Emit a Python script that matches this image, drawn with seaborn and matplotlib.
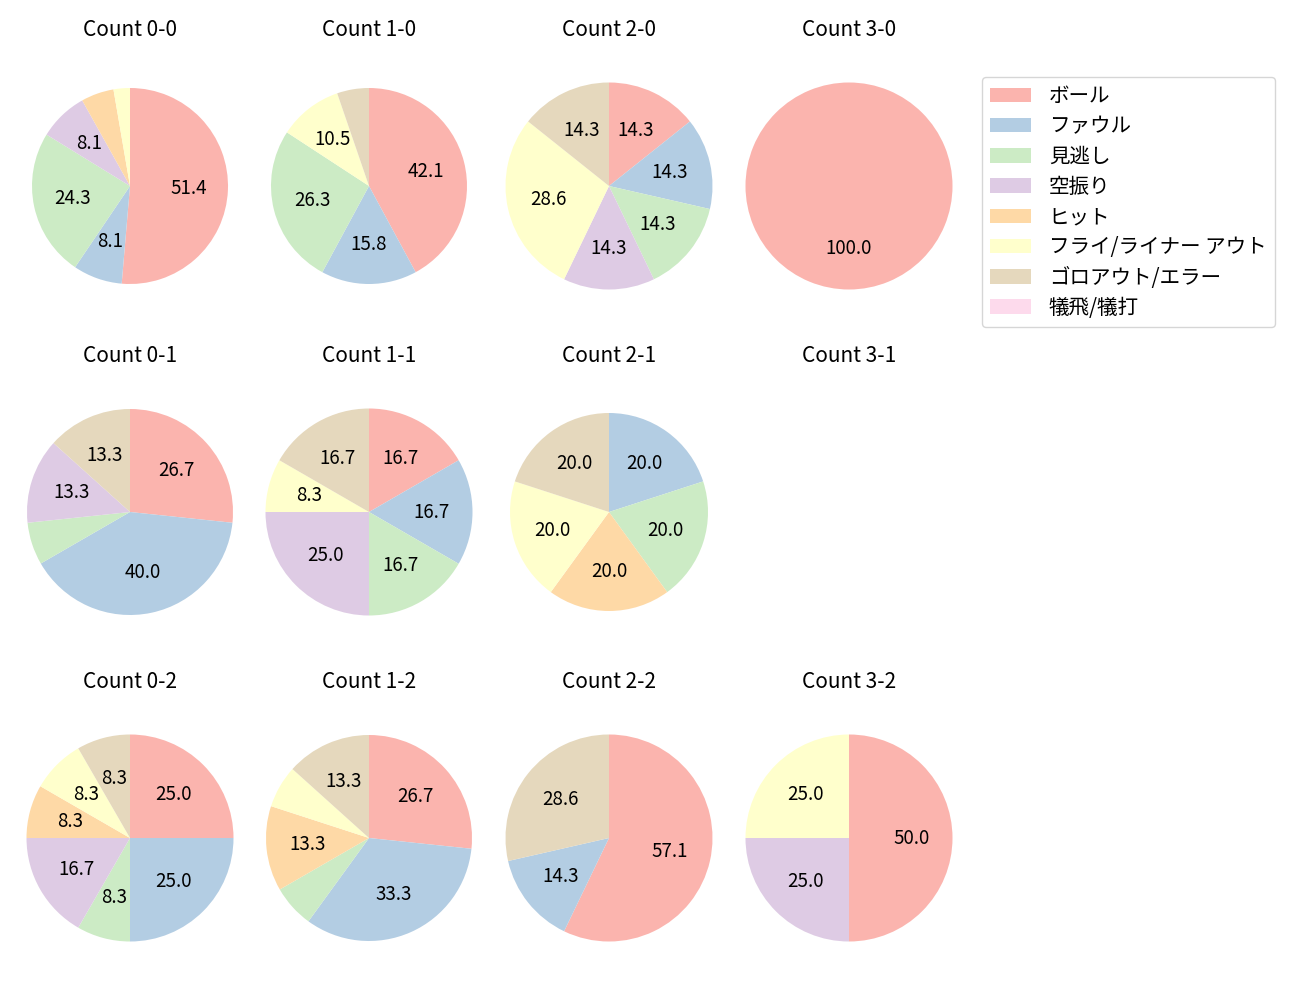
import matplotlib
matplotlib.use("Agg")
import matplotlib.pyplot as plt
import seaborn as sns
import numpy as np

# ---- data ----
categories = ["ボール", "ファウル", "見逃し", "空振り", "ヒット",
              "フライ/ライナー アウト", "ゴロアウト/エラー", "犠飛/犠打"]

count_titles = [["Count 0-0", "Count 1-0", "Count 2-0", "Count 3-0"],
                ["Count 0-1", "Count 1-1", "Count 2-1", "Count 3-1"],
                ["Count 0-2", "Count 1-2", "Count 2-2", "Count 3-2"]]

c00 = [19, 3, 9, 3, 2, 1, 0, 0]
c10 = [8, 3, 5, 0, 0, 2, 1, 0]
c20 = [1, 1, 1, 1, 0, 2, 1, 0]
c30 = [1, 0, 0, 0, 0, 0, 0, 0]
c01 = [4, 6, 1, 2, 0, 0, 2, 0]
c11 = [2, 2, 2, 3, 0, 1, 2, 0]
c21 = [0, 1, 1, 0, 1, 1, 1, 0]
c31 = [0, 0, 0, 0, 0, 0, 0, 0]
c02 = [3, 3, 1, 2, 1, 1, 1, 0]
c12 = [4, 5, 1, 0, 2, 1, 2, 0]
c22 = [4, 1, 0, 0, 0, 0, 2, 0]
c32 = [2, 0, 0, 1, 0, 1, 0, 0]

grid_values = [[c00, c10, c20, c30],
               [c01, c11, c21, c31],
               [c02, c12, c22, c32]]

# ---- style ----
sns.set_theme(style="white", rc={"text.color": "black"})
plt.rcParams["font.family"] = ["Noto Sans CJK JP", "DejaVu Sans"]
colors = sns.color_palette("Pastel1", 8)

W, H = 1300, 1000
fig = plt.figure(figsize=(13, 10), dpi=100)

col_cx = [130, 369, 609, 849]
row_cy = [186, 512, 838]
radius_px = [[98, 98, 103.5, 103.5],
             [103, 103.5, 99, 103.5],
             [103.5, 103, 103.5, 103.5]]
ax_w, ax_h = 236, 278

def autopct(p):
    return f"{p:.1f}" if p > 7 else ""

handles = None
for r in range(3):
    for c in range(4):
        cx, cy = col_cx[c], row_cy[r]
        ax = fig.add_axes([(cx - ax_w / 2) / W, 1 - (cy + ax_h / 2) / H,
                           ax_w / W, ax_h / H])
        vals = np.array(grid_values[r][c], dtype=float)
        ax.set_title(count_titles[r][c], fontsize=15, pad=8, color="black")
        if vals.sum() > 0:
            wedges, _, _ = ax.pie(vals, colors=colors, startangle=90,
                                  counterclock=False, autopct=autopct,
                                  pctdistance=0.6,
                                  wedgeprops={"linewidth": 0},
                                  textprops={"fontsize": 13.5, "color": "black"})
            if handles is None:
                handles = wedges
        rp = radius_px[r][c]
        ax.set_xlim(-(ax_w / 2) / rp, (ax_w / 2) / rp)
        ax.set_ylim(-(ax_h / 2) / rp, (ax_h / 2) / rp)
        ax.set_aspect("equal", adjustable="datalim")
        ax.axis("off")

fig.legend(handles, categories, loc="upper left",
           bbox_to_anchor=(982 / W, 1 - 77 / H), fontsize=14.8,
           labelspacing=0.4, handletextpad=0.85,
           borderaxespad=0, frameon=True)

fig.savefig("out.png", dpi=100)
